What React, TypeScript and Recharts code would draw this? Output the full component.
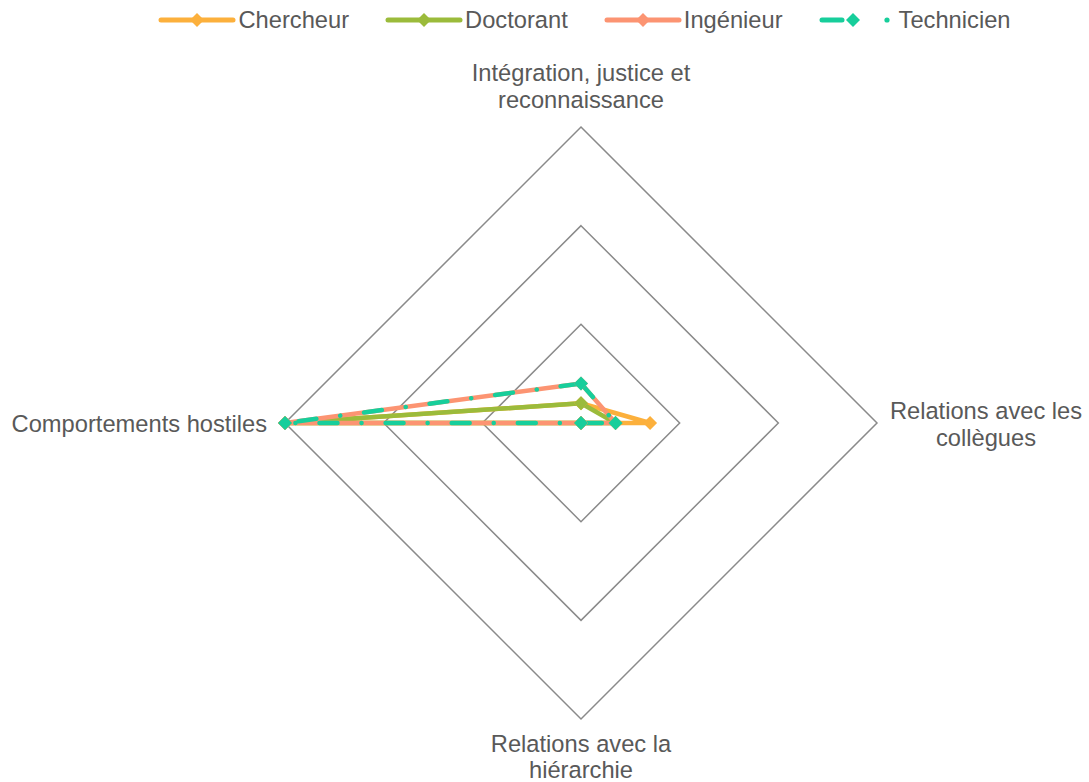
import React from "react";
import {
  RadarChart, Radar, PolarGrid, PolarAngleAxis, PolarRadiusAxis, Legend,
} from "recharts";

// axes, clockwise from the top
const AXES = [
  "Intégration, justice et reconnaissance",
  "Relations avec les collègues",
  "Relations avec la hiérarchie",
  "Comportements hostiles",
];

// how each axis label wraps
const AXIS_LINES: Record<string, string[]> = {
  "Intégration, justice et reconnaissance": ["Intégration, justice et", "reconnaissance"],
  "Relations avec les collègues": ["Relations avec les", "collègues"],
  "Relations avec la hiérarchie": ["Relations avec la", "hiérarchie"],
  "Comportements hostiles": ["Comportements hostiles"],
};

const CHERCHEUR = [0.2, 0.7, 0, 3];
const DOCTORANT = [0.2, 0.35, 0, 3];
const INGENIEUR = [0.4, 0.35, 0, 3];
const TECHNICIEN = [0.4, 0.35, 0, 3];

const SERIES = [
  { key: "Chercheur", values: CHERCHEUR, color: "#FCB03C", dash: undefined },
  { key: "Doctorant", values: DOCTORANT, color: "#9BBB3B", dash: undefined },
  { key: "Ingénieur", values: INGENIEUR, color: "#FC9472", dash: undefined },
  { key: "Technicien", values: TECHNICIEN, color: "#17CE9B", dash: "18 24 0.1 24" },
];

const data = AXES.map((axis, i) => {
  const row: Record<string, string | number> = { axis };
  SERIES.forEach((s) => { row[s.key] = s.values[i]; });
  return row;
});

const FONT = "'Liberation Sans', Arial, sans-serif";
const TEXT = "#595959";
const FS = 23.7;
const LH = 27.5;

function AxisTick(props: any) {
  const { x, y, textAnchor, payload, cy } = props;
  const lines = AXIS_LINES[payload.value] ?? [payload.value];
  let anchor = textAnchor;
  let tx = x;
  let firstY = y;
  let lh = LH;
  if (textAnchor === "middle" && y < cy) {
    firstY = y - 11 - (lines.length - 1) * LH;
  } else if (textAnchor === "middle") {
    // bottom label sits tight against the lower edge
    lh = 26;
    firstY = y + 24.5;
  } else if (textAnchor === "start") {
    anchor = "middle";
    tx = x + 101;
    firstY = y - 4.5;
  } else {
    tx = x - 10;
    firstY = y + 8.5;
  }
  return (
    <text x={tx} y={firstY} textAnchor={anchor} fill={TEXT} fontSize={FS} fontFamily={FONT}>
      {lines.map((l, i) => (
        <tspan key={i} x={tx} y={firstY + i * lh}>{l}</tspan>
      ))}
    </text>
  );
}

function diamond(color: string) {
  return (p: any) => {
    const { cx, cy } = p;
    return (
      <path
        key={`${p.index}-${color}`}
        d={`M${cx},${cy - 7}L${cx + 7},${cy}L${cx},${cy + 7}L${cx - 7},${cy}Z`}
        fill={color}
        stroke="none"
      />
    );
  };
}

function LegendIcon({ color, dashed }: { color: string; dashed: boolean }) {
  if (dashed) {
    return (
      <svg width={78} height={20} style={{ marginRight: 2 }}>
        <line x1={3} y1={10} x2={23} y2={10} stroke={color} strokeWidth={5} strokeLinecap="round" />
        <path d="M34,3L41,10L34,17L27,10Z" fill={color} />
        <circle cx={68} cy={10} r={2.6} fill={color} />
      </svg>
    );
  }
  return (
    <svg width={78} height={20} style={{ marginRight: 2 }}>
      <line x1={3} y1={10} x2={75} y2={10} stroke={color} strokeWidth={5} strokeLinecap="round" />
      <path d="M39,3L46,10L39,17L32,10Z" fill={color} />
    </svg>
  );
}

function LegendBox() {
  return (
    <div style={{ display: "flex", justifyContent: "center", gap: 36, fontFamily: FONT, fontSize: FS, color: TEXT, marginLeft: 80 }}>
      {SERIES.map((s) => (
        <div key={s.key} style={{ display: "flex", alignItems: "center" }}>
          <LegendIcon color={s.color} dashed={!!s.dash} />
          <span style={{ lineHeight: "28px" }}>{s.key}</span>
        </div>
      ))}
    </div>
  );
}

export default function App() {
  return (
    <div style={{ position: "absolute", left: 0, top: 0, width: 1089, height: 782, background: "#fff" }}>
      <RadarChart
        width={1089}
        height={782}
        data={data}
        cx={581}
        cy={423}
        outerRadius={296}
        startAngle={90}
        endAngle={-270}
        margin={{ top: 0, right: 0, bottom: 0, left: 0 }}
      >
        <PolarGrid gridType="polygon" radialLines={false} stroke="#8A8A8A" strokeWidth={1.5} />
        <PolarAngleAxis dataKey="axis" tick={<AxisTick />} tickLine={false} axisLine={false} />
        <PolarRadiusAxis domain={[0, 3]} tickCount={4} tick={false} axisLine={false} />
        {SERIES.map((s) => (
          <Radar
            key={s.key}
            name={s.key}
            dataKey={s.key}
            stroke={s.color}
            strokeWidth={4.5}
            strokeDasharray={s.dash}
            strokeLinecap="round"
            strokeLinejoin="round"
            fill="none"
            fillOpacity={0}
            dot={diamond(s.color)}
            isAnimationActive={false}
          />
        ))}
        <Legend
          verticalAlign="top"
          content={() => <LegendBox />}
          wrapperStyle={{ position: "absolute", top: 6, left: 0, width: 1089 }}
        />
      </RadarChart>
    </div>
  );
}
